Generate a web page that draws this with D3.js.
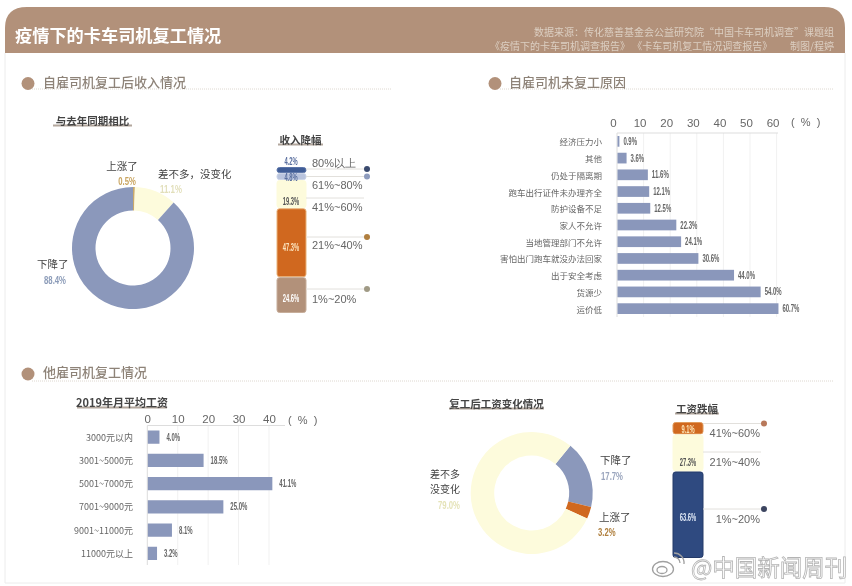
<!DOCTYPE html>
<html><head><meta charset="utf-8">
<script src="https://cdnjs.cloudflare.com/ajax/libs/d3/7.8.5/d3.min.js"></script>
<style>
html,body{margin:0;padding:0;background:#fff;width:852px;height:586px;overflow:hidden}
svg{display:block;filter:blur(0.35px)}
text{font-family:"Noto Sans CJK SC","Liberation Sans",sans-serif;white-space:pre}
</style></head><body><svg id="c" width="852" height="586"></svg>
<script>
// ---------- data ----------
const incomeNames = ["上涨了","差不多，没变化","下降了"];
const incomeValues = [0.5,11.1,88.4];
const dropBands = ["80%以上","61%~80%","41%~60%","21%~40%","1%~20%"];
const dropValues = [4.2,4.8,19.3,47.3,24.6];
const reasonNames = ["经济压力小","其他","仍处于隔离期","跑车出行证件未办理齐全","防护设备不足","家人不允许","当地管理部门不允许","害怕出门跑车就没办法回家","出于安全考虑","货源少","运价低"];
const reasonValues = [0.9,3.6,11.6,12.1,12.5,22.3,24.1,30.6,44.0,54.0,60.7];
const reasonTicks = [0,10,20,30,40,50,60];
const wageNames = ["3000元以内","3001~5000元","5001~7000元","7001~9000元","9001~11000元","11000元以上"];
const wageValues = [4.0,18.5,41.1,25.0,8.1,3.2];
const wageTicks = [0,10,20,30,40];
const changeNames = ["下降了","上涨了","差不多","没变化"];
const changeValues = [17.7,3.2,79.0];
const wageDropBands = ["41%~60%","21%~40%","1%~20%"];
const wageDropValues = [9.1,27.3,63.6];

// ---------- helpers ----------
const svg = d3.select("#c");
const TAN="#b2917a",BLUE="#8a97bb",YEL="#fdfbdc",ORG="#d0681f",NAVY="#2f4a80",DON="#8b98bb";
const LAT='"Liberation Sans",sans-serif';
function T(x,y,s,o={}){
  return svg.append("text").attr("x",x).attr("y",y).attr("dominant-baseline","central")
    .attr("text-anchor",o.a||"start").attr("font-size",o.s||11).attr("fill",o.c||"#555")
    .attr("font-weight",o.w||400).style("font-family",o.f||null).text(s);
}
// condensed percentage label, as in the reference
function V(x,y,s,c,a,sz){
  const big=(sz||10)>=11;
  return T(x,y,s,{c,a:a||"start",s:sz||10,f:LAT,w:big?700:700})
    .attr("textLength",s.length*(big?4.4:3.3)).attr("lengthAdjust","spacingAndGlyphs");
}

// ---------- frame ----------
svg.append("path").attr("d",d3.line()([[5,53],[5,583],[845,583],[845,53]])).attr("fill","none").attr("stroke","#ececec");
svg.append("path").attr("d","M5,53V28Q5,7 27,7H824Q845,7 845,28V53Z").attr("fill",TAN);
T(15,34,"疫情下的卡车司机复工情况",{s:17.2,c:"#fff",w:700});
T(834,31,"数据来源：传化慈善基金会公益研究院“中国卡车司机调查”课题组",{a:"end",s:10,c:"#dccfc2"});
T(834,45,"《疫情下的卡车司机调查报告》 《卡车司机复工情况调查报告》        制图/程婷",{a:"end",s:10,c:"#dccfc2"});

function section(cx,cy,tx,s,x1,x2,ly){
  svg.append("line").attr("x1",x1).attr("x2",x2).attr("y1",ly).attr("y2",ly)
    .attr("stroke","#ded8d0").attr("stroke-dasharray","1 1");
  svg.append("circle").attr("cx",cx).attr("cy",cy).attr("r",6.5).attr("fill",TAN);
  T(tx,cy-2.5,s,{s:13,c:"#8e8378",w:500});
}
section(28,83.5,43,"自雇司机复工后收入情况",32,392,89);
section(495,83.5,509,"自雇司机未复工原因",500,833,89);
section(28,374,43,"他雇司机复工情况",32,833,381);

function sub(x1,x2,y,s,sz){
  svg.append("line").attr("x1",x1).attr("x2",x2).attr("y1",y+5.5).attr("y2",y+5.5)
    .attr("stroke","#9a8a7c").attr("stroke-width",2).attr("opacity",.75);
  T((x1+x2)/2,y,s,{a:"middle",s:sz||10.5,c:"#444",w:700});
}
sub(53,132,120,"与去年同期相比");
sub(278,323,139,"收入降幅");
sub(77,167,402,"2019年月平均工资",11);
sub(449,544,403,"复工后工资变化情况");
sub(675,719,408,"工资跌幅");

// ---------- donuts ----------
function donut(cx,cy,values,colors,start){
  const pie=d3.pie().sort(null).startAngle(start).endAngle(start+2*Math.PI)(values);
  const arc=d3.arc().innerRadius(37.5).outerRadius(61);
  svg.append("g").attr("transform",`translate(${cx},${cy})`).selectAll("path").data(pie).join("path")
    .attr("d",arc).attr("fill",(d,i)=>colors[i]);
}
donut(133,248,incomeValues,["#c9a96a",YEL,DON],0);
T(122,165,incomeNames[0],{a:"middle",s:10.5,c:"#444"});
V(127,181,incomeValues[0].toFixed(1)+"%","#c9a45f","middle",11);
T(158,173,incomeNames[1],{s:10.5,c:"#444"});
V(160,189,incomeValues[1].toFixed(1)+"%","#e2dfba","start",11);
T(37,263,incomeNames[2],{s:10.5,c:"#444"});
V(44,280,incomeValues[2].toFixed(1)+"%","#8b9bb8","start",11);

donut(531.7,493,changeValues,[DON,ORG,YEL],39.4*Math.PI/180);
T(600,459,changeNames[0],{s:10.5,c:"#444"});
V(601,476,changeValues[0].toFixed(1)+"%","#9aa5bd","start",11);
T(599,516,changeNames[1],{s:10.5,c:"#444"});
V(598,532,changeValues[1].toFixed(1)+"%","#b0803f","start",11);
T(430,473.5,changeNames[2],{s:10,c:"#444"});
T(430,488,changeNames[3],{s:10,c:"#444"});
V(438,505,changeValues[2].toFixed(1)+"%","#e5e3b8","start",11);

// ---------- stacked bars ----------
function stack(x,width,y0,y1,bands,values,fills,strokes){
  const total=d3.sum(values);
  const y=d3.scaleLinear().domain([0,total]).range([y0,y1]);
  const rows=d3.stack().keys(bands)([Object.fromEntries(bands.map((b,i)=>[b,values[i]]))]).map(s=>s[0]);
  svg.append("g").selectAll("rect").data(rows).join("rect")
    .attr("x",x).attr("width",width).attr("y",d=>y(d[0])+.5).attr("height",d=>Math.max(1,y(d[1])-y(d[0])-1))
    .attr("rx",2.5).attr("fill",(d,i)=>fills[i]).attr("stroke",(d,i)=>strokes[i]);
  return y;
}
function lead(x1,x2,y,dot){
  svg.append("line").attr("x1",x1).attr("x2",x2).attr("y1",y).attr("y2",y).attr("stroke","#e2e0dc");
  if(dot) svg.append("circle").attr("cx",x2+3).attr("cy",y).attr("r",3).attr("fill",dot);
}
stack(277,29,167,313,dropBands,dropValues,["#3f5c96","#b9c4de",YEL,ORG,TAN],["#5b74a8","#c9d2e6",YEL,"#e8b27a","#c7ae9b"]);
lead(306,364,169,"#3a4a6e"); lead(306,364,176.5,"#8d9bbd"); lead(306,364,198,null); lead(306,364,237,"#b07f3f"); lead(306,364,289,"#a09a85");
[163,185,207,245,299].forEach((y,i)=>T(312,y,dropBands[i],{s:11,c:"#666",f:LAT}));
const d1=dropValues.map(v=>v.toFixed(1)+"%");
V(291,161.5,d1[0],"#5a6f9f","middle"); V(291,177,d1[1],"#5a6f9f","middle");
V(291,201,d1[2],"#555","middle"); V(291,247,d1[3],"#fbe3bd","middle"); V(291,298,d1[4],"#fff","middle");

stack(673,30,422,558,wageDropBands,wageDropValues,[ORG,YEL,NAVY],["#e09a5c",YEL,"#243a68"]);
lead(703,761,423.5,"#b8785a"); lead(703,761,452,null); lead(703,761,509,"#3c4560");
[433,462,519].forEach((y,i)=>T(760,y,wageDropBands[i],{s:11,c:"#666",a:"end",f:LAT}));
const d2=wageDropValues.map(v=>v.toFixed(1)+"%");
V(688,429,d2[0],"#fde6b8","middle"); V(688,462,d2[1],"#555","middle"); V(688,517,d2[2],"#dfe8f5","middle");

// ---------- horizontal bars ----------
function hbars(o){
  const x=d3.scaleLinear().domain([0,o.max]).range([o.x0,o.x1]);
  const y=d3.scaleBand().domain(o.names).range([o.y0,o.y1]).paddingInner(o.pad).paddingOuter(o.pad/2);
  const g=svg.append("g");
  g.selectAll(".grid").data(o.ticks.slice(1)).join("line").attr("x1",x).attr("x2",x)
    .attr("y1",o.y0).attr("y2",o.y1).attr("stroke","#f1f1f1");
  const ax=g.append("g").attr("transform",`translate(0,${o.y0})`)
    .call(d3.axisTop(x).tickValues(o.ticks).tickSize(0).tickPadding(o.tp));
  ax.select(".domain").attr("stroke","#ddd").attr("d",`M${o.x0},0H${o.axEnd}`);
  ax.selectAll("text").attr("fill","#666").attr("font-size",11.5).attr("dx",o.dx).style("font-family",LAT);
  g.append("line").attr("x1",o.x0).attr("x2",o.x0).attr("y1",o.y0).attr("y2",o.y1).attr("stroke","#ddd");
  g.selectAll("rect").data(o.values).join("rect").attr("x",o.x0+.5)
    .attr("y",(d,i)=>y(o.names[i])).attr("height",y.bandwidth()).attr("width",d=>x(d)-o.x0-.5).attr("fill",BLUE);
  g.selectAll(".v").data(o.values).join("text").attr("x",d=>x(d)+o.vdx)
    .attr("y",(d,i)=>y(o.names[i])+y.bandwidth()/2).attr("dominant-baseline","central")
    .attr("font-size",10).attr("font-weight",700).attr("fill","#666").style("font-family",LAT).text(d=>d.toFixed(1)+"%")
    .attr("textLength",d=>(d.toFixed(1).length+1)*3.4).attr("lengthAdjust","spacingAndGlyphs");
  g.selectAll(".n").data(o.names).join("text").attr("x",o.lx).attr("text-anchor","end")
    .attr("y",d=>y(d)+y.bandwidth()/2).attr("dominant-baseline","central")
    .attr("font-size",o.ls).attr("fill","#666").text(d=>d);
}
hbars({names:reasonNames,values:reasonValues,ticks:reasonTicks,max:60,x0:617,x1:776.6,y0:133,y1:317,pad:.36,tp:6,dx:-4,axEnd:778,vdx:4,lx:602,ls:8.5});
T(791,122,"(  %  )",{s:11,c:"#666",f:LAT});
hbars({names:wageNames,values:wageValues,ticks:wageTicks,max:40,x0:147.3,x1:269,y0:425.5,y1:565,pad:.43,tp:3,dx:0,axEnd:285,vdx:7,lx:133,ls:9});
T(288,420,"(  %  )",{s:11,c:"#666",f:LAT});

// ---------- watermark ----------
const wm=svg.append("g").attr("fill","none").attr("stroke","#a0a0a0").attr("stroke-width",1.3);
wm.append("ellipse").attr("cx",663).attr("cy",569).attr("rx",10.5).attr("ry",7.5).attr("fill","#fff");
wm.append("ellipse").attr("cx",662).attr("cy",570).attr("rx",5).attr("ry",3.5);
wm.append("path").attr("d","M674,557a6,6 0 0 1 6,6M674,553a10,10 0 0 1 10,11");
svg.append("text").attr("x",691).attr("y",566).attr("dominant-baseline","central").attr("font-size",22.5)
  .attr("fill","#fff").attr("stroke","#b4b4b4").attr("stroke-width",.8).text("@中国新闻周刊");
</script></body></html>
